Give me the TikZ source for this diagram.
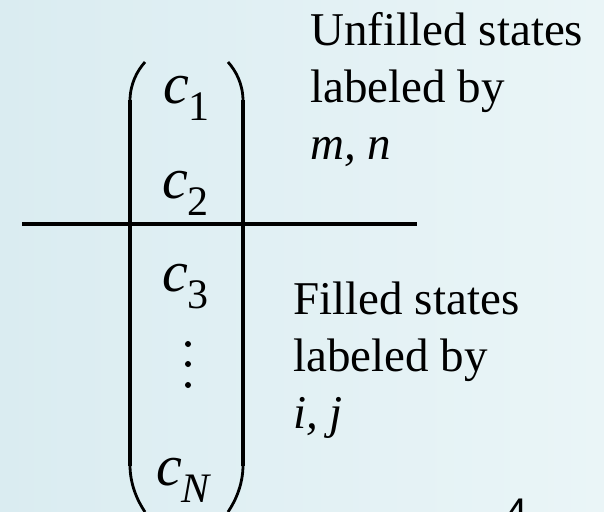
\documentclass[tikz,border=0pt]{standalone}
\usepackage{fontspec}
\setmainfont{Liberation Serif}
\setsansfont{Liberation Sans}
\usepackage{tikz}
\definecolor{SlideBgDeep}{HTML}{DAECF1}
\definecolor{SlideBgLight}{HTML}{EAF5F7}
\definecolor{SlideInk}{HTML}{000000}
% coefficient c with a large subscript
\newcommand{\coefsym}[1]{{\fontsize{29pt}{29pt}\selectfont\itshape c}\kern-0.5pt\raisebox{-8.5pt}{\fontsize{21pt}{21pt}\selectfont #1}}

\begin{document}
\begin{tikzpicture}[x=0.5pt,y=-0.5pt,
    coefnode/.style={anchor=base west, inner sep=0pt, text=SlideInk},
    statenote/.style={anchor=north west, inner sep=0pt, align=left, text=SlideInk,
      font=\fontsize{23.5pt}{28.5pt}\selectfont},
    bracketbar/.style={draw=SlideInk, line width=2pt},
    bracketend/.style={draw=SlideInk, line width=1.4pt},
    splitline/.style={draw=SlideInk, line width=1.75pt}]
        \useasboundingbox (0,0) rectangle (604,511);
        \shade[left color=SlideBgDeep, right color=SlideBgLight] (0,0) rectangle (604,511);
        % split between unfilled and filled states
        \draw[splitline] (22,224) -- (417,224);
        % column vector brackets
        \foreach \x/\dx in {130/1,243/-1} {
          \draw[bracketbar] (\x,466) -- (\x,100);
          \draw[bracketend] (\x,101) .. controls (\x,84) and (\x+7*\dx,71) .. (\x+15*\dx,62);
          \draw[bracketend] (\x,465) .. controls (\x,484) and (\x+7*\dx,500) .. (\x+15*\dx,512);
        }
        \node[coefnode] (c1) at (163,103) {\coefsym{1}};
        \node[coefnode] (c2) at (162,198) {\coefsym{2}};
        \node[coefnode] (c3) at (162,291) {\coefsym{3}};
        \foreach \y in {344,364,385} {
          \fill[SlideInk] (188,\y) circle (1.5pt);
        }
        \node[coefnode] (cN) at (156,485) {\coefsym{\itshape N}};
        \node[statenote] (unfilled) at (310,12) {Unfilled states\\labeled by\\\textit{m, n}};
        \node[statenote] (filled) at (293,281) {Filled states\\labeled by\\\textit{i, j}};
        \node[anchor=base west, inner sep=0pt, font=\sffamily\fontsize{20pt}{20pt}\selectfont] (pagenum) at (505,526) {4};
      \end{tikzpicture}
\end{document}
